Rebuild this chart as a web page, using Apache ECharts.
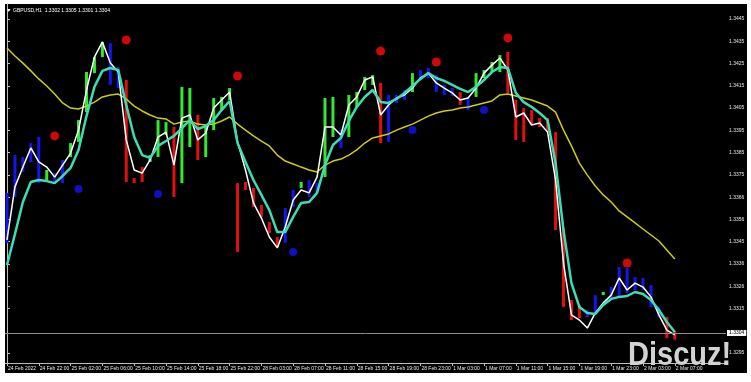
<!DOCTYPE html>
<html><head><meta charset="utf-8">
<script src="https://cdn.jsdelivr.net/npm/echarts@6/dist/echarts.min.js"></script>
<style>html,body{margin:0;padding:0;background:#fff}#c{width:751px;height:382px}</style>
</head><body><div id="c"></div>
<script>
// ---------- data ----------
const chartTitle = 'GBPUSD,H1  1.3302 1.3305 1.3301 1.3304';
const currentPrice = 1.3304;
const currentPriceLabel = '1.3304';

const high = [1.33669,1.33839,1.33830,1.33893,1.33920,1.33772,1.33758,1.33817,1.33893,1.33996,
1.34212,1.34279,1.34347,1.34342,1.34234,1.34176,1.33736,1.33785,1.33839,1.33996,
1.33987,1.33965,1.34145,1.34140,1.34019,1.33974,1.34095,1.34100,1.34140,1.33713,
1.33718,1.33691,1.33615,1.33538,1.33471,1.33601,1.33682,1.33718,1.33727,1.33713,
1.34095,1.34100,1.33951,1.34109,1.34122,1.34190,1.34198,1.34163,1.34109,1.34109,
1.34131,1.34207,1.34221,1.34230,1.34198,1.34154,1.34140,1.34122,1.34100,1.34207,
1.34221,1.34257,1.34288,1.34302,1.34086,1.34050,1.34041,1.34005,1.34005,1.33942,
1.33511,1.33188,1.33166,1.33143,1.33210,1.33224,1.33246,1.33336,1.33332,1.33291,
1.33287,1.33255,1.33157,1.33112,1.33050];

const low = [1.33444,1.33651,1.33763,1.33808,1.33713,1.33727,1.33713,1.33713,1.33830,1.33898,
1.34032,1.34207,1.34279,1.34154,1.34140,1.33718,1.33713,1.33718,1.33808,1.33830,
1.33929,1.33651,1.33713,1.33875,1.33817,1.33830,1.33951,1.34041,1.34086,1.33404,
1.33682,1.33606,1.33561,1.33489,1.33426,1.33444,1.33606,1.33691,1.33651,1.33669,
1.33740,1.33920,1.33871,1.33920,1.34055,1.34131,1.34154,1.33893,1.33898,1.34073,
1.34086,1.34122,1.34176,1.34185,1.34122,1.34109,1.34104,1.34064,1.34041,1.34100,
1.34185,1.34212,1.34212,1.34118,1.33907,1.33898,1.33974,1.33965,1.33942,1.33502,
1.33157,1.33098,1.33107,1.33112,1.33130,1.33210,1.33188,1.33202,1.33219,1.33233,
1.33233,1.33157,1.33112,1.33017,1.33010];

// B = neutral (blue), G = up (green), R = down (red)
const barState = 'BBBBBGBBGGGGGBBRRRGGGRGGRGGGGRRRRRRBBGBBGGBGGGGRBBBGBBBBBRBGGGGRRRRRRRRRRBBGBBBBBBBRR'.split('');

const fastLine = [1.33458,1.33696,1.33785,1.33871,1.33808,1.33785,1.33740,1.33794,1.33848,1.33951,
1.34131,1.34279,1.34347,1.34252,1.34212,1.33907,1.33772,1.33758,1.33817,1.33920,
1.33942,1.33794,1.34005,1.34019,1.33907,1.33938,1.34050,1.34086,1.34122,1.33898,
1.33772,1.33624,1.33556,1.33471,1.33422,1.33516,1.33637,1.33682,1.33669,1.33740,
1.33965,1.33965,1.33929,1.34064,1.34100,1.34176,1.34190,1.34019,1.34064,1.34095,
1.34109,1.34140,1.34185,1.34207,1.34163,1.34140,1.34118,1.34086,1.34095,1.34140,
1.34207,1.34243,1.34275,1.34221,1.34010,1.34028,1.33974,1.33983,1.33942,1.33727,
1.33354,1.33121,1.33098,1.33062,1.33130,1.33175,1.33210,1.33287,1.33233,1.33264,
1.33246,1.33202,1.33121,1.33053,1.33031];

const midLine = [1.33345,1.33484,1.33628,1.33718,1.33727,1.33722,1.33713,1.33745,1.33781,1.33862,
1.34014,1.34145,1.34217,1.34230,1.34221,1.34064,1.33920,1.33839,1.33826,1.33880,
1.33902,1.33925,1.33960,1.33996,1.33956,1.33969,1.33996,1.34041,1.34082,1.33893,
1.33808,1.33727,1.33660,1.33592,1.33493,1.33493,1.33561,1.33624,1.33628,1.33669,
1.33794,1.33884,1.33916,1.33992,1.34055,1.34100,1.34131,1.34077,1.34073,1.34091,
1.34118,1.34149,1.34181,1.34207,1.34185,1.34172,1.34154,1.34136,1.34122,1.34145,
1.34176,1.34212,1.34234,1.34230,1.34118,1.34077,1.34055,1.34028,1.33996,1.33803,
1.33502,1.33264,1.33157,1.33130,1.33125,1.33166,1.33193,1.33202,1.33206,1.33224,
1.33215,1.33188,1.33143,1.33089,1.33044];

const slowLine = [1.34320,1.34284,1.34252,1.34217,1.34181,1.34149,1.34113,1.34073,1.34050,1.34046,
1.34059,1.34077,1.34100,1.34109,1.34113,1.34091,1.34059,1.34037,1.34019,1.34005,
1.34001,1.33978,1.33987,1.33992,1.33978,1.33974,1.33978,1.33992,1.34010,1.33978,
1.33951,1.33925,1.33902,1.33880,1.33839,1.33812,1.33799,1.33785,1.33772,1.33763,
1.33794,1.33812,1.33821,1.33839,1.33862,1.33893,1.33916,1.33925,1.33934,1.33951,
1.33965,1.33978,1.33996,1.34014,1.34028,1.34037,1.34041,1.34050,1.34055,1.34064,
1.34073,1.34082,1.34109,1.34113,1.34104,1.34095,1.34086,1.34073,1.34059,1.34032,
1.33951,1.33880,1.33803,1.33749,1.33700,1.33660,1.33628,1.33588,1.33561,1.33534,
1.33507,1.33480,1.33453,1.33413,1.33372];

const upFractalIndex = [6, 15, 29, 47, 54, 63, 78];
const upFractalValue = [1.33925, 1.34356, 1.34194, 1.34306, 1.34257, 1.34365, 1.33354];
const downFractalIndex = [9, 19, 36, 51, 60];
const downFractalValue = [1.33687, 1.33664, 1.33404, 1.33951, 1.34041];

const xTickIndex = [0,4,8,12,16,20,24,28,32,36,40,44,48,52,56,60,64,68,72,76,80,84];
const xTickLabels = ['24 Feb 2022','24 Feb 22:00','25 Feb 02:00','25 Feb 06:00','25 Feb 10:00','25 Feb 14:00',
'25 Feb 18:00','25 Feb 22:00','28 Feb 03:00','28 Feb 07:00','28 Feb 11:00','28 Feb 15:00','28 Feb 19:00',
'28 Feb 23:00','1 Mar 03:00','1 Mar 07:00','1 Mar 11:00','1 Mar 15:00','1 Mar 19:00','1 Mar 23:00',
'2 Mar 03:00','2 Mar 07:00'];
const yTickValues = [1.3445,1.3435,1.3425,1.3415,1.3405,1.3395,1.3385,1.3375,1.3365,1.3355,1.3345,1.3335,1.3325,1.3315,1.3295];
const yTickLabels = ['1.3445','1.3435','1.3425','1.3415','1.3405','1.3395','1.3385','1.3375','1.3366','1.3356','1.3345','1.3336','1.3326','1.3315','1.3295'];

// ---------- chart ----------
const palette = {B: '#1515f0', G: '#33e833', R: '#e01010'};
const FONT = '"Liberation Sans", Arial, sans-serif';
const chart = echarts.init(document.getElementById('c'), null, {renderer: 'canvas'});
const idx = high.map((_, i) => i);

const option = {
  backgroundColor: '#ffffff',
  animation: false,
  graphic: [
    {type: 'rect', z: -10, silent: true, shape: {x: 5, y: 4, width: 742, height: 369}, style: {fill: '#000000'}},
    {type: 'polygon', z: 50, silent: true, shape: {points: [[7, 9], [10.5, 9], [8.75, 12]]}, style: {fill: '#ffffff'}},
    {type: 'text', z: 50, silent: true, x: 13, y: 10.5,
      style: {text: chartTitle, font: '5px ' + FONT, fill: '#ffffff', verticalAlign: 'middle'}},
    {type: 'text', z: 100, silent: true, x: 628, y: 339, scaleX: 0.88,
      style: {text: 'Discuz!', font: 'bold 33px ' + FONT, fill: '#d2d2d2', verticalAlign: 'top'}}
  ],
  grid: {left: 5, right: 25, top: 4, bottom: 19, containLabel: false},
  xAxis: {
    type: 'value', min: -0.25, max: 90.44, position: 'bottom',
    axisLine: {show: true, onZero: false, lineStyle: {color: '#bdbdbd', width: 1}},
    axisTick: {show: true, customValues: xTickIndex, length: 3, lineStyle: {color: '#bdbdbd'}},
    axisLabel: {
      customValues: xTickIndex, align: 'left', margin: 3, fontSize: 5, fontFamily: FONT, color: '#e6e6e6',
      padding: [0, 0, 0, 1],
      formatter: v => xTickLabels[xTickIndex.indexOf(Math.round(v))] || ''
    },
    splitLine: {show: false}
  },
  yAxis: {
    type: 'value', min: 1.329051, max: 1.345174, position: 'right', scale: true,
    axisLine: {show: true, lineStyle: {color: '#bdbdbd', width: 1}},
    axisTick: {show: true, customValues: yTickValues, length: 3, lineStyle: {color: '#bdbdbd'}},
    axisLabel: {
      customValues: yTickValues, margin: 3, fontSize: 5, fontFamily: FONT, color: '#e6e6e6',
      formatter: v => {
        const k = yTickValues.findIndex(t => Math.abs(t - v) < 1e-7);
        return k >= 0 ? yTickLabels[k] : '';
      }
    },
    splitLine: {show: false}
  },
  series: [
    {
      type: 'custom', name: 'bars', z: 2, clip: true,
      data: idx.map(i => [i, high[i], low[i]]),
      encode: {x: 0, y: [1, 2]},
      renderItem: (params, api) => {
        const i = api.value(0);
        const top = api.coord([i, api.value(1)]);
        const bot = api.coord([i, api.value(2)]);
        return {
          type: 'rect',
          shape: {x: top[0] - 1.5, y: top[1], width: 3, height: Math.max(1.5, bot[1] - top[1])},
          style: {fill: palette[barState[i]]}
        };
      }
    },
    {
      type: 'line', name: 'slow', z: 3, symbol: 'none', silent: true,
      data: idx.map(i => [i, slowLine[i]]),
      lineStyle: {color: '#cccc14', width: 1.5}
    },
    {
      type: 'line', name: 'fast', z: 4, symbol: 'none', silent: true,
      data: idx.map(i => [i, fastLine[i]]),
      lineStyle: {color: '#ffffff', width: 1.5},
      markLine: {
        silent: true, symbol: 'none', animation: false, precision: 5,
        data: [{yAxis: currentPrice}],
        lineStyle: {color: '#8a8a8a', width: 1, type: 'solid'},
        label: {
          show: true, position: 'end', distance: 1, formatter: currentPriceLabel,
          fontSize: 5, fontFamily: FONT, color: '#000000', backgroundColor: '#ffffff', padding: [1, 2, 0, 2]
        }
      }
    },
    {
      type: 'line', name: 'mid', z: 5, symbol: 'none', silent: true,
      data: idx.map(i => [i, midLine[i]]),
      lineStyle: {color: '#3ddcb4', width: 2.5}
    },
    {
      type: 'scatter', name: 'upFractal', z: 6, symbol: 'circle', symbolSize: 9,
      data: upFractalIndex.map((k, j) => [k, upFractalValue[j]]),
      itemStyle: {color: '#ff0a0a'}
    },
    {
      type: 'scatter', name: 'downFractal', z: 6, symbol: 'circle', symbolSize: 8,
      data: downFractalIndex.map((k, j) => [k, downFractalValue[j]]),
      itemStyle: {color: '#1414f0'}
    }
  ]
};
chart.setOption(option);
</script>
</body></html>
